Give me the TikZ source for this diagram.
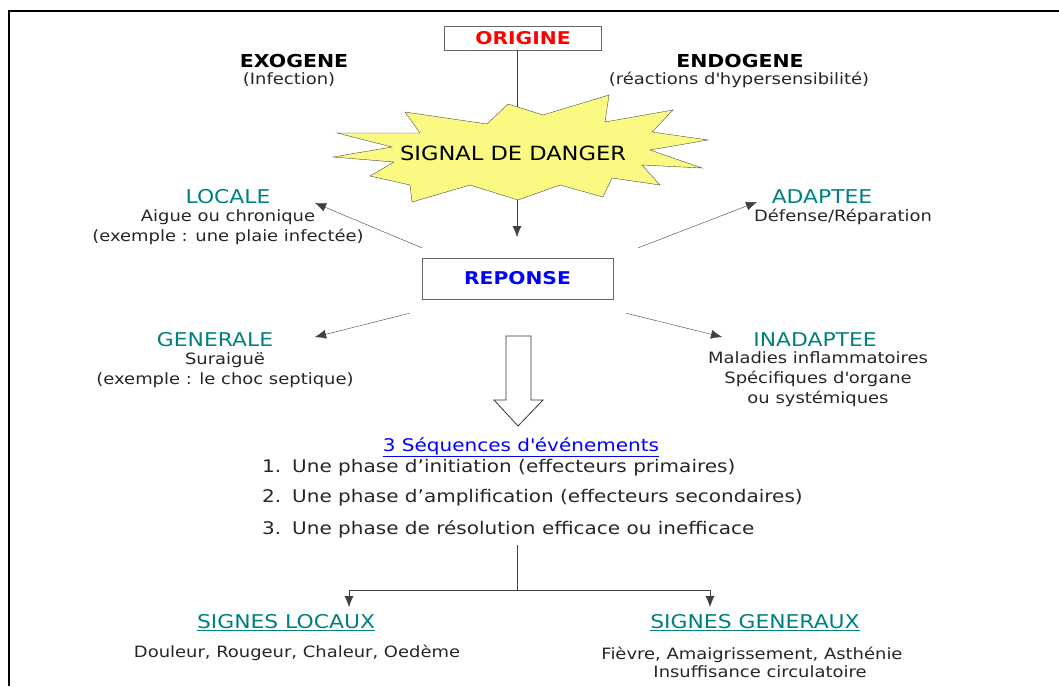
\documentclass[tikz,border=0pt]{standalone}
\usepackage{fontspec}
\setmainfont{DejaVu Sans}[FakeStretch=1.15]
\usepackage{tikz}
\usetikzlibrary{arrows.meta,calc}
\definecolor{danger}{RGB}{250,250,130}

\begin{document}
\begin{tikzpicture}[x=1pt,y=-1pt]
	\tikzstyle{box}=[draw=black!60,inner sep=0pt]
	\tikzstyle{lbl}=[inner sep=0pt,align=center,text=black!85,font=\fontsize{15.6}{20}\selectfont]
	\tikzstyle{head}=[inner sep=0pt,text=teal,font=\fontsize{19}{20}\selectfont]
	\tikzstyle{title}=[inner sep=0pt,text=black,font=\bfseries\fontsize{17.8}{20}\selectfont]
	\tikzstyle{item}=[inner sep=0pt,text=black!85,font=\fontsize{17.4}{20}\selectfont]
	\tikzstyle{arr}=[draw=black!75,-{Latex[length=11pt,width=9pt]}]
	\useasboundingbox (0,0) rectangle (1059,686);
	\draw[line width=2.5pt] (9,686) -- (9,11) -- (1059,11);

	% origine
	\node[box,minimum width=157pt,minimum height=24pt,text=red,font=\bfseries\fontsize{17.6}{16}\selectfont] (orig) at (523,38) {ORIGINE};
	\node[title] (exo) at (294,61) {EXOGENE};
	\node[lbl] (inf) at (289,80) {(Infection)};
	\node[title] (endo) at (740,61) {ENDOGENE};
	\node[lbl] (hyp) at (739,80) {(réactions d\textquotesingle hypersensibilité)};

	\coordinate (c1) at (517,237);
	\draw[arr] (orig.south -| c1) -- (c1);

	% signal de danger
	\filldraw[fill=danger,draw=black!70] (337,133) -- (420,133) -- (405,112) -- (487,124) -- (508,104) -- (543,115) -- (609,95) -- (605,122) -- (673,110) -- (652,132) -- (708,140) -- (650,150) -- (702,168) -- (642,165) -- (660,185) -- (612,178) -- (603,197) -- (560,185) -- (518,200) -- (470,185) -- (412,202) -- (410,185) -- (370,176) -- (394,162) -- (333,157) -- (392,147) -- cycle;
	\node[inner sep=0pt,font=\fontsize{19.6}{20}\selectfont] (sig) at (513,153) {SIGNAL DE DANGER};

	% reponse
	\node[box,minimum width=191pt,minimum height=41pt,text=blue,font=\bfseries\fontsize{17.6}{16}\selectfont] (rep) at (517.5,278.5) {REPONSE};

	\node[head] (loc) at (228,197) {LOCALE};
	\node[lbl] (locb) at (228,227) {Aigue ou chronique\\(exemple : une plaie infectée)};
	\node[head] (ada) at (822,197) {ADAPTEE};
	\node[lbl] (adab) at (843,217) {Défense/Réparation};
	\node[head] (gen) at (215,340) {GENERALE};
	\node[lbl] (genb) at (225,370) {Suraiguë\\(exemple : le choc septique)};
	\node[head] (ina) at (815,340) {INADAPTEE};
	\node[lbl] (inab) at (818,379.5) {Maladies inflammatoires\\Spécifiques d\textquotesingle organe\\ou systémiques};

	\coordinate (c2) at (315,203);
	\coordinate (c3) at (757,202);
	\coordinate (c4) at (315,337);
	\coordinate (c5) at (722,337);
	\draw[arr] ($(rep.north west)+(0,-10)$) -- (c2);
	\draw[arr] ($(rep.north east)+(25,-10)$) -- (c3);
	\draw[arr] ($(rep.south west)+(-12,14)$) -- (c4);
	\draw[arr] ($(rep.south east)+(13,14)$) -- (c5);

	% grosse fleche
	\draw[black!80,line width=0.8pt] (506,336) -- (531,336) -- (531,400) -- (543,400) -- (518,426) -- (494,400) -- (506,400) -- cycle;

	% sequences
	\node[item,text=blue] (seq) at (521,447) {\underline{3 Séquences d\textquotesingle événements}};
	\node[item,anchor=base west] (n1) at (262,472) {1.};
	\node[item,anchor=base west] (p1) at (292,472) {Une phase d’initiation (effecteurs primaires)};
	\node[item,anchor=base west] (n2) at (262,502) {2.};
	\node[item,anchor=base west] (p2) at (292,502) {Une phase d’amplification (effecteurs secondaires)};
	\node[item,anchor=base west] (n3) at (262,534) {3.};
	\node[item,anchor=base west] (p3) at (292,534) {Une phase de résolution efficace ou inefficace};

	% signes
	\coordinate (c6) at (517,545);
	\coordinate (fk) at (517,590);
	\coordinate (c7) at (349,607);
	\coordinate (c8) at (710,607);
	\draw[black!75] (c6) -- (fk);
	\draw[arr] (fk) -| (c7);
	\draw[arr] (fk) -| (c8);

	\node[head] (sl) at (286,623) {\underline{SIGNES LOCAUX}};
	\node[lbl] (slb) at (297,653) {Douleur, Rougeur, Chaleur, Oedème};
	\node[head] (sg) at (755,623) {\underline{SIGNES GENERAUX}};
	\node[lbl,font=\fontsize{15.6}{18}\selectfont] (sgb) at (752,662) {Fièvre, Amaigrissement, Asthénie\\\hspace*{16pt}Insuffisance circulatoire};
\end{tikzpicture}
\end{document}
